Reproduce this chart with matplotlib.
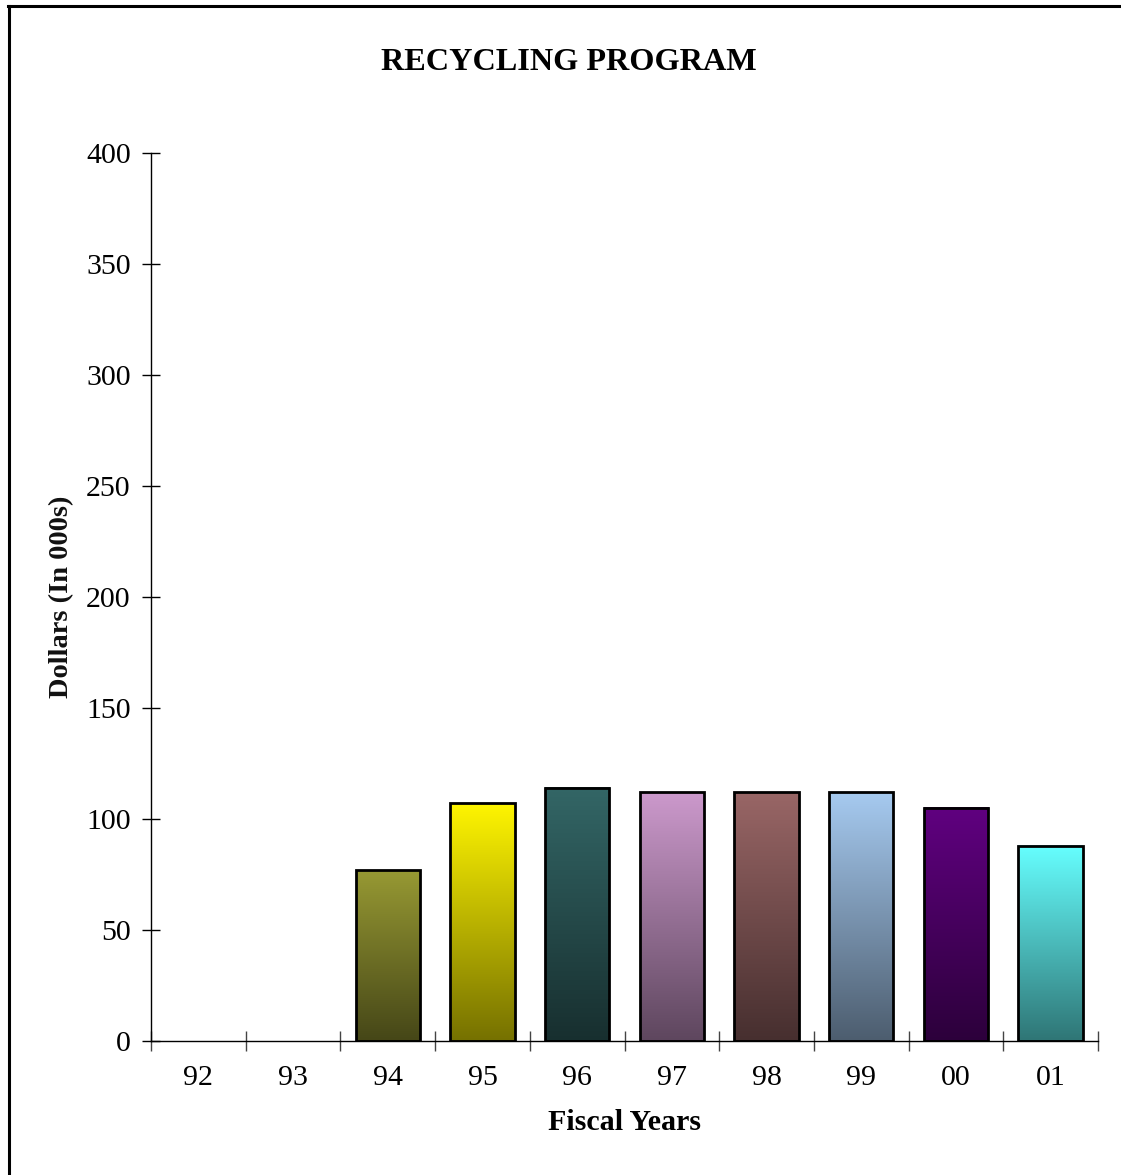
import numpy as np
import matplotlib
matplotlib.use("Agg")
import matplotlib.pyplot as plt
from matplotlib.lines import Line2D
from matplotlib.colors import to_rgb

# Recycling program spending by fiscal year (dollars, in thousands)
years = ["92", "93", "94", "95", "96", "97", "98", "99", "00", "01"]
values = [0, 0, 77, 107, 114, 112, 112, 112, 105, 88]
top_colors = [None, None, "#979933", "#FFF500", "#336666", "#CC99CC",
              "#996666", "#A6CAF0", "#600080", "#66FFFF"]
y_ticks = [0, 50, 100, 150, 200, 250, 300, 350, 400]

plt.rcParams["font.family"] = ["Liberation Serif", "DejaVu Serif"]

W, H = 1121, 1175
fig = plt.figure(figsize=(W / 100, H / 100), dpi=100)
fig.patch.set_facecolor("white")

# outer frame (left and top edges)
fig.add_artist(Line2D([9.0 / W, 9.0 / W], [0, 1 - 6 / H], color="black", lw=2.2))
fig.add_artist(Line2D([8.0 / W, 1], [1 - 6.0 / H, 1 - 6.0 / H], color="black", lw=2.2))

ax = fig.add_axes([151 / W, 1 - 1041 / H, 947 / W, 888 / H])
ax.set_facecolor("none")

x = np.arange(len(years))
bar_w = 0.68
shade = 0.46

for xi, v, c in zip(x, values, top_colors):
    if v <= 0 or c is None:
        continue
    top = np.array(to_rgb(c))
    bottom = top * shade
    t = np.linspace(0, 1, 256)[:, None]
    grad = (top[None, :] * (1 - t) + bottom[None, :] * t)[:, None, :]
    ax.imshow(grad, extent=[xi - bar_w / 2, xi + bar_w / 2, 0, v],
              aspect="auto", origin="upper", zorder=2, interpolation="bilinear")
    ax.bar(xi, v, width=bar_w, facecolor="none", edgecolor="black",
           linewidth=2.0, zorder=3)

ax.set_xlim(-0.5, len(years) - 0.5)
ax.set_ylim(0, 400)

for side in ("top", "right"):
    ax.spines[side].set_visible(False)
for side in ("left", "bottom"):
    ax.spines[side].set_linewidth(1.0)
    ax.spines[side].set_color("black")

ax.set_yticks(y_ticks)
ax.set_yticklabels([str(t) for t in y_ticks])
ax.tick_params(axis="y", direction="inout", length=13, width=1.0,
               labelsize=21.5, pad=8, colors="black")

# category boundaries as tick marks, year labels centred between them
ax.set_xticks(np.arange(-0.5, len(years), 1.0))
ax.set_xticklabels([])
ax.tick_params(axis="x", which="major", direction="inout", length=15, width=1.0,
               colors="#444444")
ax.set_xticks(x, minor=True)
ax.set_xticklabels(years, minor=True)
ax.tick_params(axis="x", which="minor", length=0, labelsize=21.5, pad=17)

fig.text(569 / W, 1 - 62 / H, "RECYCLING PROGRAM", ha="center", va="center",
         fontsize=23.2, fontweight="bold")
fig.text(625 / W, 1 - 1123 / H, "Fiscal Years", ha="center", va="center",
         fontsize=21.6, fontweight="bold")
fig.text(62 / W, 1 - 597 / H, "Dollars (In 000s)", ha="center", va="center",
         rotation=90, fontsize=20.5, fontweight="bold", color="#111111")

fig.savefig("out.png", dpi=100, facecolor="white")
